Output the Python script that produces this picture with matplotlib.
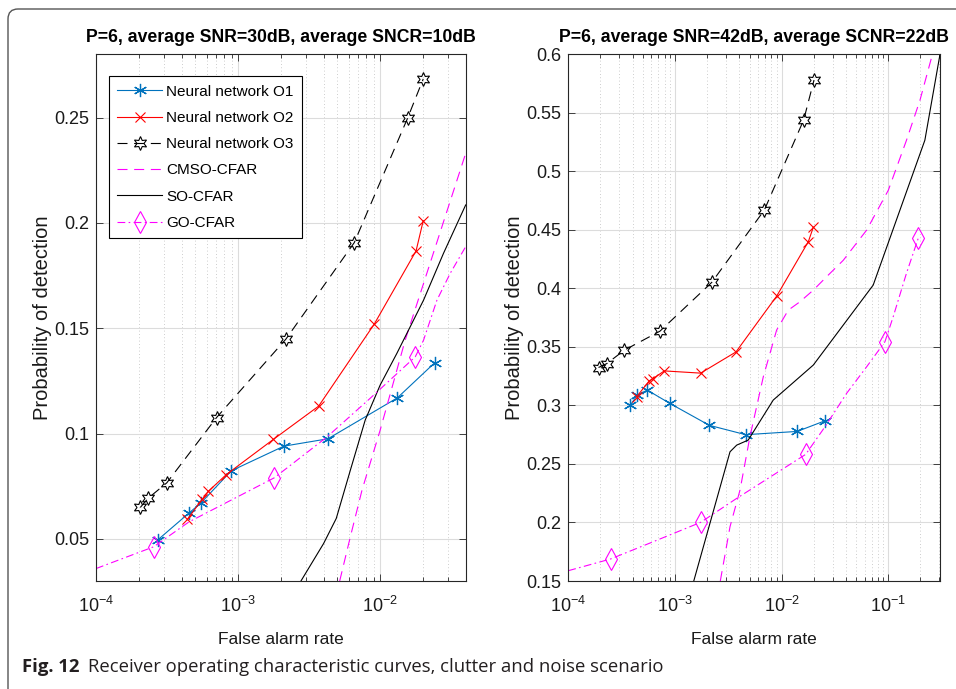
import matplotlib
matplotlib.use('Agg')
import matplotlib.pyplot as plt
from matplotlib.ticker import LogLocator, NullFormatter, FixedLocator, FormatStrFormatter
from matplotlib.patches import FancyBboxPatch

FONT = ['Liberation Sans Narrow', 'Liberation Sans', 'DejaVu Sans']
plt.rcParams['font.family'] = FONT
plt.rcParams['mathtext.default'] = 'regular'
plt.rcParams['axes.unicode_minus'] = False

# ---------------- data ----------------
titles = ['P=6, average SNR=30dB, average SNCR=10dB',
          'P=6, average SNR=42dB, average SCNR=22dB']
labels = ['Neural network O1', 'Neural network O2', 'Neural network O3',
          'CMSO-CFAR', 'SO-CFAR', 'GO-CFAR']

# left panel
l_o1_x = [2.71e-4, 4.52e-4, 5.51e-4, 8.95e-4, 2.10e-3, 4.29e-3, 1.32e-2, 2.43e-2]
l_o1_y = [0.0494, 0.0623, 0.0672, 0.0823, 0.0940, 0.0975, 0.1169, 0.1337]
l_o2_x = [4.40e-4, 5.60e-4, 6.18e-4, 8.26e-4, 1.77e-3, 3.69e-3, 9.08e-3, 1.79e-2, 2.01e-2]
l_o2_y = [0.0593, 0.0688, 0.0726, 0.0805, 0.0972, 0.1130, 0.1519, 0.1867, 0.2010]
l_o3_x = [2.05e-4, 2.33e-4, 3.15e-4, 7.06e-4, 2.17e-3, 6.57e-3, 1.56e-2, 2.01e-2]
l_o3_y = [0.0649, 0.0693, 0.0766, 0.1076, 0.1448, 0.1906, 0.2497, 0.2683]
l_cmso_x = [5.19e-3, 6.17e-3, 7.45e-3, 1.0e-2, 1.5e-2, 4.0e-2]
l_cmso_y = [0.0300, 0.0510, 0.0731, 0.1016, 0.1443, 0.2330]
l_so_x = [2.77e-3, 4.0e-3, 4.91e-3, 6.17e-3, 7.85e-3, 1.0e-2, 1.31e-2, 2.02e-2, 2.79e-2, 4.0e-2]
l_so_y = [0.0300, 0.0478, 0.0597, 0.0826, 0.1064, 0.1230, 0.1380, 0.1633, 0.1855, 0.2085]
l_go_x = [1.0e-4, 2.54e-4, 4.5e-4, 1.80e-3, 4.23e-3, 8.5e-3, 1.766e-2, 2.02e-2, 2.51e-2, 3.11e-2, 4.0e-2]
l_go_y = [0.0359, 0.0462, 0.0580, 0.0790, 0.0984, 0.1167, 0.1364, 0.1443, 0.1633, 0.1760, 0.1887]
l_go_marks = [1, 3, 6]

# right panel
r_o1_x = [3.79e-4, 4.44e-4, 5.50e-4, 8.97e-4, 2.10e-3, 4.60e-3, 1.40e-2, 2.55e-2]
r_o1_y = [0.3000, 0.3088, 0.3131, 0.3017, 0.2830, 0.2750, 0.2778, 0.2869]
r_o2_x = [4.37e-4, 5.74e-4, 6.17e-4, 7.94e-4, 1.74e-3, 3.73e-3, 8.98e-3, 1.78e-2, 1.98e-2]
r_o2_y = [0.3074, 0.3210, 0.3227, 0.3295, 0.3276, 0.3457, 0.3934, 0.4400, 0.4523]
r_o3_x = [1.92e-4, 2.30e-4, 3.35e-4, 7.22e-4, 2.21e-3, 6.88e-3, 1.61e-2, 2.01e-2]
r_o3_y = [0.3324, 0.3358, 0.3472, 0.3634, 0.4051, 0.4669, 0.5440, 0.5780]
r_cmso_x = [2.66e-3, 3.28e-3, 4.07e-3, 5.04e-3, 6.73e-3, 8.97e-3, 1.153e-2, 1.48e-2,
            1.98e-2, 2.64e-2, 3.78e-2, 6.26e-2, 0.1, 0.148, 0.198, 0.26]
r_cmso_y = [0.1500, 0.1964, 0.2277, 0.2732, 0.3245, 0.3644, 0.3814, 0.3885,
            0.3985, 0.4100, 0.4240, 0.4498, 0.4839, 0.5266, 0.5608, 0.6006]
r_so_x = [1.50e-3, 3.28e-3, 3.79e-3, 4.86e-3, 8.34e-3, 1.98e-2, 7.21e-2, 0.22, 0.305]
r_so_y = [0.1500, 0.2604, 0.2661, 0.2704, 0.3046, 0.3345, 0.4028, 0.5266, 0.6000]
r_go_x = [1.0e-4, 2.49e-4, 6.27e-4, 1.74e-3, 3.79e-3, 1.68e-2, 2.55e-2, 4.06e-2, 6.26e-2,
          9.29e-2, 0.111, 0.148, 0.1905]
r_go_y = [0.1588, 0.1688, 0.1836, 0.2001, 0.2206, 0.2582, 0.2818, 0.3103, 0.3330,
          0.3544, 0.3757, 0.4130, 0.4427]
r_go_marks = [1, 3, 5, 9, 12]

left_yticks = [0.05, 0.10, 0.15, 0.20, 0.25]
right_yticks = [0.15, 0.20, 0.25, 0.30, 0.35, 0.40, 0.45, 0.50, 0.55, 0.60]

caption_bold = 'Fig. 12'
caption_text = 'Receiver operating characteristic curves, clutter and noise scenario'

# ---------------- style ----------------
BLUE = '#0072BD'
RED = '#FF0000'
MAG = '#FF00FF'
AXC = '#262626'
ASTER = (6, 2, 0)
HEXA = (6, 1, 0)

fig = plt.figure(figsize=(9.56, 6.89), dpi=100)
W, H = 956, 689

def px_axes(l, r, t, b):
    return fig.add_axes([l / W, 1 - b / H, (r - l) / W, (b - t) / H])

axL = px_axes(96, 466, 54.3, 581)
axR = px_axes(568.3, 940, 54.3, 581)

def draw(ax, d, xlim, ylim, yticks, title, legend=False):
    o1x, o1y, o2x, o2y, o3x, o3y, cx, cy, sx, sy, gx, gy, gm = d
    ax.plot(o1x, o1y, color=BLUE, lw=0.8, marker=ASTER, ms=9.5, mew=0.9, label=labels[0])
    ax.plot(o2x, o2y, color=RED, lw=0.8, marker='x', ms=7.5, mew=0.8, label=labels[1])
    ax.plot(o3x, o3y, color='k', lw=0.8, ls=(0, (9, 6)), marker=HEXA, ms=10, mew=0.8,
            mfc='none', label=labels[2])
    ax.plot(cx, cy, color=MAG, lw=0.8, ls=(0, (9, 6)), label=labels[3])
    ax.plot(sx, sy, color='k', lw=0.8, label=labels[4])
    ax.plot(gx, gy, color=MAG, lw=0.8, ls=(0, (7, 3, 1.5, 3)), marker='d', ms=11,
            mew=0.8, mfc='none', markevery=gm, label=labels[5])
    ax.set_xscale('log')
    ax.set_xlim(*xlim)
    ax.set_ylim(*ylim)
    ax.xaxis.set_major_locator(LogLocator(base=10, numticks=10))
    ax.xaxis.set_minor_locator(LogLocator(base=10, subs=range(2, 10), numticks=20))
    ax.xaxis.set_minor_formatter(NullFormatter())
    ax.yaxis.set_major_locator(FixedLocator(yticks))
    ax.yaxis.set_major_formatter(FormatStrFormatter('%g'))
    ax.grid(True, which='major', color='#dcdcdc', lw=0.8, ls='-')
    ax.grid(True, which='minor', axis='x', color='#bdbdbd', lw=0.6, ls=(0, (1, 3)))
    ax.set_axisbelow(True)
    ax.tick_params(which='both', direction='in', top=True, right=True, color=AXC,
                   labelcolor='#1a1a1a', labelsize=13, width=0.6)
    ax.tick_params(which='major', length=5)
    ax.tick_params(which='minor', length=3)
    ax.tick_params(axis='x', which='major', pad=11)
    ax.tick_params(axis='y', which='major', pad=5)
    for s in ax.spines.values():
        s.set_color(AXC)
        s.set_linewidth(0.8)
    ax.set_title(title, fontsize=12.7, fontweight='bold', pad=9)
    ax.set_xlabel('False alarm rate', fontsize=12.5, color='#1a1a1a', labelpad=11)
    ax.set_ylabel('Probability of detection', fontsize=14.5, color='#1a1a1a', labelpad=1.5)
    if legend:
        leg = ax.legend(loc='upper left', bbox_to_anchor=(0.035, 0.958), fontsize=11,
                        frameon=True, fancybox=False, edgecolor='k', framealpha=1,
                        handlelength=2.9, labelspacing=0.8, borderpad=0.55,
                        handletextpad=0.3, borderaxespad=0)
        leg.get_frame().set_linewidth(0.8)

draw(axL, (l_o1_x, l_o1_y, l_o2_x, l_o2_y, l_o3_x, l_o3_y, l_cmso_x, l_cmso_y,
           l_so_x, l_so_y, l_go_x, l_go_y, l_go_marks),
     (1e-4, 0.0402), (0.03, 0.28), left_yticks, titles[0], legend=True)
draw(axR, (r_o1_x, r_o1_y, r_o2_x, r_o2_y, r_o3_x, r_o3_y, r_cmso_x, r_cmso_y,
           r_so_x, r_so_y, r_go_x, r_go_y, r_go_marks),
     (1e-4, 0.305), (0.15, 0.6), right_yticks, titles[1])

# figure frame (rounded box) and caption
frame = FancyBboxPatch((8, -40), 1100, 689 - 9 + 40, boxstyle='round,pad=0,rounding_size=10',
                       transform=None, fill=False, edgecolor='#555555', lw=1.0)
fig.add_artist(frame)

CAPF = ['Open Sans', 'DejaVu Sans']
cap1 = fig.text(22 / W, 1 - 667 / H, caption_bold, fontsize=13.3, fontweight='bold',
                family=CAPF, color='#231f20', va='center')
fig.canvas.draw()
bb = cap1.get_window_extent()
fig.text((bb.x1 + 9) / W, 1 - 667 / H, caption_text,
         fontsize=13.3, family=CAPF, color='#231f20', va='center')

fig.savefig('out.png', dpi=100, facecolor='white')
